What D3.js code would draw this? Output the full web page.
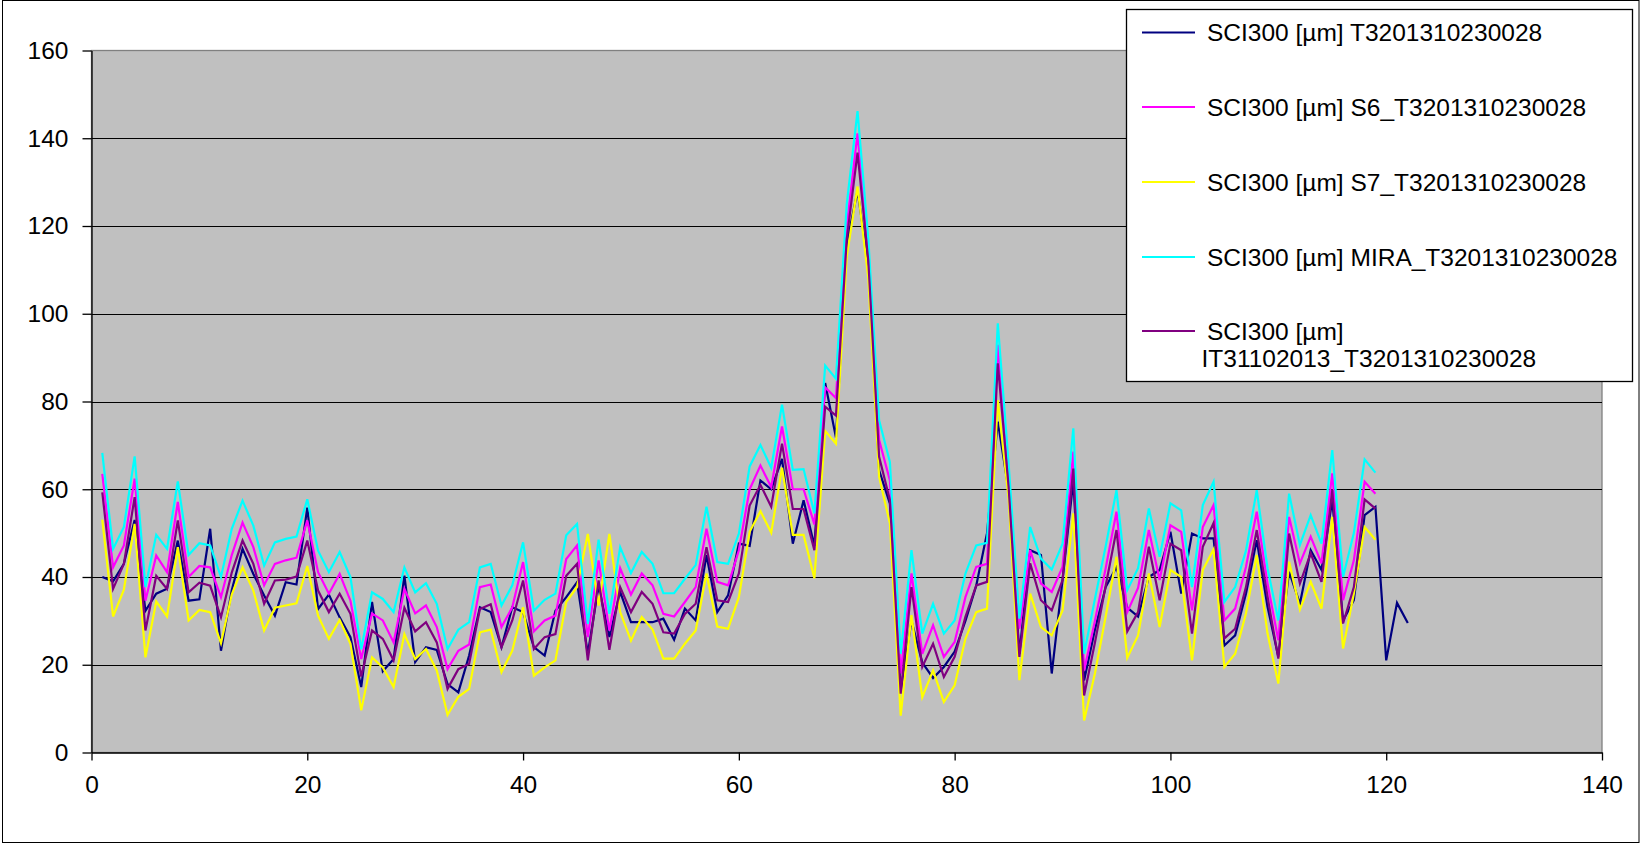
<!DOCTYPE html>
<html>
<head>
<meta charset="utf-8">
<script src="https://cdn.jsdelivr.net/npm/d3@7"></script>
<style>
  body { margin: 0; background: #fff; }
  svg { display: block; }
  text { font-family: "Liberation Sans", Arial, sans-serif; }
</style>
</head>
<body>
<div id="chart"></div>
<script>
// series values, one per measurement (x = 1, 2, 3 ...)
const sci300 = [40,39,43,53,32.3,36.2,37.3,48.3,34.6,34.9,51,23.2,37,46.4,40.7,35.8,31.2,38.8,38.3,55.8,
  32.7,36,30.8,26.3,14.9,34.3,18.5,21.3,40.3,20.6,24,23.4,15.6,13.7,22.1,33.1,32,24,33.1,32,
  24,22.1,32.3,35.4,38.8,22.5,38,26.3,36.6,29.7,29.7,29.7,30.5,25.7,32.8,30.1,45,32,35.8,47.6,
  47.1,62,60,66.9,47.6,57.5,47.1,84.2,71.8,116,128,111,64.3,56.7,14.1,30,20.5,17,19.5,23,
  30,38,50,75.4,59.8,22.5,46.1,45,18,39.3,62,16.4,28,37.7,42.3,33,31,40,41.6,50.3,
  36.2,49.9,48.8,48.8,24.4,26.7,36.2,48.4,33.2,21.8,41.2,33.9,46.1,41.6,57.5,30.1,34.7,54.1,56,21,
  34.1,29.5];
const sci300S6 = [63.5,42.2,47.2,62.4,34.6,44.9,41.1,57.1,40,42.5,42.2,35.4,45,52.4,46.8,38.1,43,43.8,44.4,52.9,
  41.1,36.2,40.7,34.6,21.3,31.7,30.1,25.1,37.3,31.7,33.5,28.6,19,23.2,24.6,37.7,38.3,28.6,33.1,43.4,
  27.6,30.1,31.2,44.1,47.2,26.3,43.8,27.8,42,36,40.8,38.1,31.6,31,34.3,37.7,51,38.9,38.1,46.1,
  60,65.4,60.5,74.3,60,60,52,83.2,80.8,120,141.1,114,71.2,62,18,40.8,22.5,29,21.8,25.2,
  35.4,42.3,43,92.9,62.8,28.2,46.1,38.5,36.6,42.3,68.6,18.7,30,42,54.9,32,37.5,50.7,39.3,51.8,
  50.3,32.4,51.4,56.4,30.1,32.8,42.3,54.9,38.5,25.6,53.7,43.1,49.2,43.1,63.6,34.7,43.8,61.7,59];
const sci300S7 = [53.1,31,37.1,52.1,21.7,34.4,31,46.8,30.1,32.5,32,24.9,36,42.2,36.9,27.8,33,33.5,34,42.5,
  31.2,25.9,30.2,24.8,9.6,21.7,19.4,14.9,27,21.3,23.6,18.7,8.6,12.7,14.5,27.4,28,18.3,23.2,33.1,
  17.5,19.4,21,34.3,37.7,49.8,33.5,49.8,32,25.5,30.9,28,21.4,21.4,24.8,27.8,40.8,28.7,28.2,35.4,
  50.3,55,50.1,64.9,49.6,49.6,39.7,73.3,70.4,113,129,108,62.8,52.2,8.4,31.3,12.6,18.7,11.5,15.3,
  25.9,32,32.8,80.3,58,16.5,36.2,28.6,26.7,32.4,54.5,7.3,18,31,44.6,21.6,26.7,40.8,28.6,41.6,
  40,21,41.6,46.3,19.5,22.5,31.7,45,27.1,15.7,43.5,32.6,38.9,32.8,53.7,23.7,36.2,51.4,48.5];
const sci300Mira = [68.3,46.4,51.4,67.5,37.7,49.6,46.4,61.8,45,47.7,47.2,40,51,57.4,51.7,42.6,47.9,48.7,49.2,57.7,
  46,41.1,45.7,40,23.5,36.5,35,32,42.2,36.5,38.6,33.9,23.6,28,29.7,42.2,43,33.5,38.1,47.9,
  32.3,34.8,36.2,49.5,52.1,29.3,48.5,31.6,46.8,40.9,45.7,43,36.3,36.3,39.6,42.7,56,43.4,43,49.9,
  65.2,70.1,64.9,79.3,64.4,64.6,54.5,88.2,85.2,125,146.2,117,75.7,66.2,22.5,46.1,27.1,33.9,27.1,30.1,
  40.8,47.2,47.8,97.8,65.9,30.5,51.4,44.2,41.7,47.6,73.9,22.5,35,47,59.8,37,42,55.6,44.6,56.8,
  55.2,37.7,56.4,61.7,34.3,37.7,46,59.8,42,30.1,59,47.3,54.1,47.6,68.9,40,50,66.8,63.8];
const sci300IT = [59.3,37.3,43,58.2,27.8,40.3,37.3,52.9,36.5,38.7,38,30.8,41,48.3,43,33.9,39.2,39.4,40.1,48.3,
  36.9,32,36.2,31.6,17.3,27.8,25.9,21,33,27.6,29.7,25.1,14.5,19,20.2,32.7,33.8,24,30.1,39.2,
  23.6,26.3,27,40.3,43,21,39.2,23.4,37.7,32,36.6,33.9,27.4,27.1,31.6,33.9,46.8,34.7,34.3,40.8,
  56.3,61,56,70.4,55.5,55.5,46.1,78.8,76.8,117,136.7,112,67.4,57.5,13.4,37.7,19.5,24.8,17.2,21.8,
  30.9,38.1,38.9,88.7,60.6,21.8,43.1,34.7,32.4,39.3,64.7,13,25,38,50.7,27.6,32,46.9,34.7,47.6,
  46.1,27.1,46.9,52.3,26,28.2,37.7,50.7,35.5,21.4,49.9,38.5,45.4,38.9,59.8,29.4,37.7,57.7,55.6];

const seriesNames = [
  "SCI300 [µm] T3201310230028",
  "SCI300 [µm] S6_T3201310230028",
  "SCI300 [µm] S7_T3201310230028",
  "SCI300 [µm] MIRA_T3201310230028",
  "SCI300 [µm] IT31102013_T3201310230028"
];
const seriesValues = [sci300, sci300S6, sci300S7, sci300Mira, sci300IT];
const seriesColors = ["#000080", "#FF00FF", "#FFFF00", "#00FFFF", "#800080"];

const xTicks = [0, 20, 40, 60, 80, 100, 120, 140];
const yTicks = [0, 20, 40, 60, 80, 100, 120, 140, 160];

// dimensions
const svgwidth = 1640, svgheight = 844;
const plot = {left: 91.5, right: 1602, top: 50.5, bottom: 752.5};
const font_size = 24.5;

const svg = d3.select("#chart").append("svg")
  .attr("width", svgwidth)
  .attr("height", svgheight);

// chart area border
svg.append("rect")
  .attr("x", 2.5).attr("y", 0.5)
  .attr("width", svgwidth - 3.5).attr("height", svgheight - 2)
  .attr("fill", "#fff")
  .attr("stroke", "#000");

let xScale = d3.scaleLinear().domain([0, 140]).range([plot.left, plot.right]);
let yScale = d3.scaleLinear().domain([0, 160]).range([plot.bottom, plot.top]);

// plot area
svg.append("rect")
  .attr("x", plot.left).attr("y", plot.top)
  .attr("width", plot.right - plot.left).attr("height", plot.bottom - plot.top)
  .attr("fill", "#C0C0C0")
  .attr("stroke", "#808080")
  .attr("stroke-width", 1.3);

// horizontal gridlines
svg.append("g").selectAll("line")
  .data(yTicks.filter(t => t > 0 && t < 160))
  .enter().append("line")
  .attr("x1", plot.left).attr("x2", plot.right)
  .attr("y1", d => Math.round(yScale(d)) + 0.5)
  .attr("y2", d => Math.round(yScale(d)) + 0.5)
  .attr("stroke", "#000")
  .attr("stroke-width", 1);

// axes
let yAxis = d3.axisLeft(yScale).tickValues(yTicks).tickSize(9).tickPadding(14).tickSizeOuter(0);
let xAxis = d3.axisBottom(xScale).tickValues(xTicks).tickSize(8).tickPadding(15).tickSizeOuter(0);

const y_ax = svg.append("g")
  .attr("transform", `translate(${plot.left},0)`)
  .call(yAxis);
const x_ax = svg.append("g")
  .attr("transform", `translate(0,${plot.bottom})`)
  .call(xAxis);
[x_ax, y_ax].forEach(ax => {
  ax.select(".domain").attr("stroke", "#000").attr("stroke-width", 1.3);
  ax.selectAll(".tick line").attr("stroke", "#000").attr("stroke-width", 1.3);
  ax.selectAll("text")
    .attr("fill", "#000")
    .style("font-size", font_size + "px")
    .style("font-family", '"Liberation Sans", Arial, sans-serif');
});

// series lines
let line = d3.line()
  .x((d, i) => xScale(i + 1))
  .y(d => yScale(d));

svg.append("g")
  .attr("class", "lines")
  .selectAll("path")
  .data(seriesValues)
  .enter().append("path")
  .attr("d", d => line(d))
  .attr("fill", "none")
  .attr("stroke", (d, i) => seriesColors[i])
  .attr("stroke-width", 2.2)
  .attr("stroke-linejoin", "miter");

// legend
const legend = svg.append("g").attr("class", "legend");
legend.append("rect")
  .attr("x", 1126.5).attr("y", 9.5)
  .attr("width", 506).attr("height", 372)
  .attr("fill", "#fff")
  .attr("stroke", "#000")
  .attr("stroke-width", 1.3);

const legend_rows = [32.5, 107, 182, 257, 331];
seriesNames.forEach((name, i) => {
  const ly = legend_rows[i];
  legend.append("line")
    .attr("x1", 1142).attr("x2", 1195)
    .attr("y1", ly).attr("y2", ly)
    .attr("stroke", seriesColors[i])
    .attr("stroke-width", 2.2);
  if (i < 4) {
    legend.append("text")
      .text(name)
      .attr("x", 1207)
      .attr("y", ly + 8.8)
      .style("font-size", font_size + "px");
  } else { // last entry wraps onto two lines
    const parts = name.split(" ");
    legend.append("text")
      .text(parts.slice(0, 2).join(" "))
      .attr("x", 1207)
      .attr("y", ly + 8.8)
      .style("font-size", font_size + "px");
    legend.append("text")
      .text(parts.slice(2).join(" "))
      .attr("x", 1201.5)
      .attr("y", ly + 36)
      .style("font-size", font_size + "px");
  }
});
</script>
</body>
</html>
